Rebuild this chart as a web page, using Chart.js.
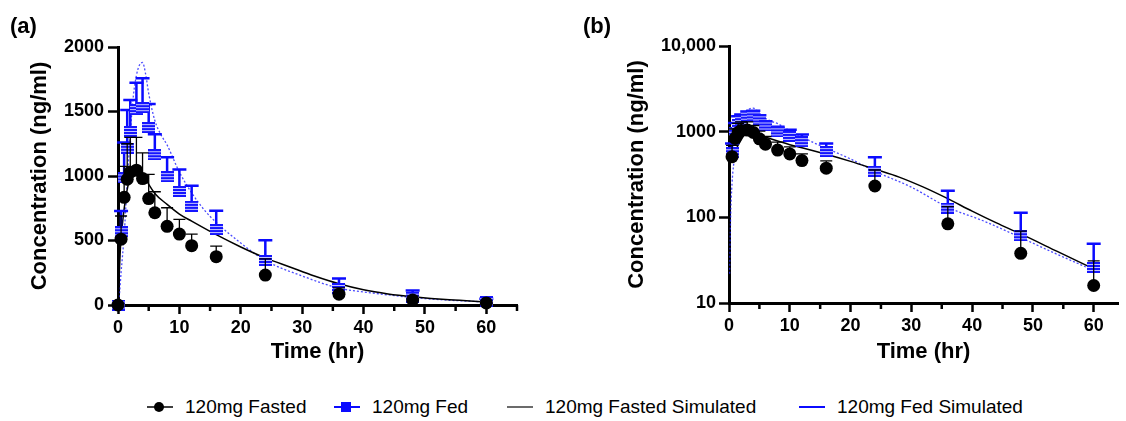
<!DOCTYPE html>
<html>
<head>
<meta charset="utf-8">
<script src="https://cdn.jsdelivr.net/npm/chart.js@4.4.1/dist/chart.umd.min.js"></script>
<style>
  body { margin: 0; background: #fff; font-family: 'Liberation Sans', Arial, sans-serif; }
  #wrap { position: relative; width: 1126px; height: 421px; overflow: hidden; }
  canvas { position: absolute; top: 0; }
  #chartA { left: 0; }
  #chartB { left: 575px; }
  .panel { position: absolute; top: 13px; font: bold 22px 'Liberation Sans', Arial, sans-serif; }
  .legend-item { position: absolute; top: 396px; height: 22px; display: flex; align-items: center; font-size: 19px; color: #000; }
  .legend-item svg { margin-right: 12px; }
</style>
</head>
<body>
<div id="wrap">
  <canvas id="chartA" width="565" height="380"></canvas>
  <canvas id="chartB" width="551" height="380"></canvas>
  <div class="panel" style="left:10px">(a)</div>
  <div class="panel" style="left:583px">(b)</div>
  <div id="legend"></div>
</div>
<script>
// observed sampling times (hr)
const times = [0, 0.5, 1, 1.5, 2, 3, 4, 5, 6, 8, 10, 12, 16, 24, 36, 48, 60];
const fastedMean = [0, 510, 835, 975, 1030, 1045, 980, 825, 715, 610, 550, 460, 375, 232, 84, 38, 16];
const fastedSD = [0, 180, 240, 275, 270, 255, 200, 188, 163, 144, 114, 90, 82, 125, 49, 31, 15];
const fedMean = [0, 568, 985, 1215, 1345, 1515, 1530, 1375, 1165, 995, 880, 765, 585, 345, 128, 61, 26];
const fedSD = [0, 161, 275, 297, 245, 208, 227, 183, 158, 150, 170, 160, 145, 157, 77, 52, 23];

// simulated profiles
const fastedSimTimes = [0, 0.5, 3.5, 4.5, 6, 8, 10, 12, 16, 20, 24, 28, 32, 36, 40, 44, 48, 54, 60];
const fastedSim = [0, 520, 1055, 975, 865, 780, 705, 650, 545, 450, 365, 295, 225, 165, 118, 86, 64, 40, 25];
const fedSimTimes = [0, 0.1, 0.25, 0.5, 1, 1.5, 2, 2.5, 3, 3.5, 4, 4.5, 5, 6, 7, 8, 10, 12, 14, 16, 20, 24, 30, 36, 42, 48, 54, 60];
const fedSim = [0, 22, 90, 250, 540, 950, 1330, 1620, 1780, 1860, 1880, 1790, 1640, 1430, 1320, 1240, 1030, 870, 740, 640, 480, 345, 225, 131, 90, 58, 37, 24];

const linearTicks = [0, 500, 1000, 1500, 2000];
const logTicks = [10, 100, 1000, 10000];
const logTickLabels = ['10', '100', '1000', '10,000'];
const minorTimeTicks = [5, 15, 25, 35, 45, 55, 65];

const FONT = "'Liberation Sans', Arial, sans-serif";
const BLUE = '#0b0bff';

const points = (xs, ys, sd) => xs.map((x, i) => ({ x, y: ys[i], sd: sd ? sd[i] : 0 }));

// striped square used for the fed observations
const fedMarker = document.createElement('canvas');
fedMarker.width = 13;
fedMarker.height = 11;
{
    const m = fedMarker.getContext('2d');
    m.fillStyle = '#c4c4ff';
    m.fillRect(0, 0, 13, 11);
    m.fillStyle = '#1515ff';
    [0, 3, 6, 9].forEach((y) => m.fillRect(0, y, 13, 2));
}

const errorBars = {
    id: 'errorBars',
    beforeDatasetDraw(chart, args) {
        const ds = chart.data.datasets[args.index];
        if (!ds.errColor) return;
        const { ctx } = chart;
        const xs = chart.scales.x;
        const ys = chart.scales.y;
        ctx.save();
        ctx.strokeStyle = ds.errColor;
        ctx.lineWidth = ds.errWidth;
        ds.data.forEach((p) => {
            if (!p.sd) return;
            const px = xs.getPixelForValue(p.x);
            const y0 = ys.getPixelForValue(p.y);
            const y1 = ys.getPixelForValue(p.y + p.sd);
            ctx.beginPath();
            ctx.moveTo(px, y0);
            ctx.lineTo(px, y1);
            ctx.moveTo(px - ds.capHalf, y1);
            ctx.lineTo(px + ds.capHalf, y1);
            ctx.stroke();
        });
        ctx.restore();
    },
};

const minorTicks = {
    id: 'minorTicks',
    afterDraw(chart) {
        const xs = chart.scales.x;
        const { ctx, chartArea } = chart;
        ctx.save();
        ctx.strokeStyle = '#000';
        ctx.lineWidth = 2.5;
        minorTimeTicks.forEach((v) => {
            if (v > xs.max) return;
            const px = xs.getPixelForValue(v);
            ctx.beginPath();
            ctx.moveTo(px, chartArea.bottom);
            ctx.lineTo(px, chartArea.bottom + 6);
            ctx.stroke();
        });
        ctx.restore();
    },
};

const buildDatasets = (isLog) => {
    const keep = (arr) => (isLog ? arr.filter((p) => p.y > 0) : arr);
    return [
        {
            label: '120mg Fasted',
            data: keep(points(times, fastedMean, fastedSD)),
            pointStyle: 'circle',
            pointRadius: 6.5,
            pointHoverRadius: 6.5,
            backgroundColor: '#000',
            borderWidth: 0,
            errColor: '#000',
            errWidth: 1.3,
            capHalf: 6,
            clip: false,
            order: 0,
        },
        {
            label: '120mg Fed',
            data: keep(points(times, fedMean, fedSD)),
            pointStyle: fedMarker,
            pointRadius: 6,
            errColor: BLUE,
            errWidth: 2.5,
            capHalf: 7,
            clip: false,
            order: 1,
        },
        {
            label: '120mg Fasted Simulated',
            data: keep(points(fastedSimTimes, fastedSim)),
            showLine: true,
            borderColor: '#000',
            borderWidth: 1.5,
            pointRadius: 0,
            cubicInterpolationMode: 'monotone',
            clip: false,
            order: 2,
        },
        {
            label: '120mg Fed Simulated',
            data: keep(points(fedSimTimes, fedSim)),
            showLine: true,
            borderColor: 'rgba(30, 30, 255, .8)',
            borderDash: [2, 2],
            borderWidth: 1.3,
            pointRadius: 0,
            cubicInterpolationMode: 'monotone',
            clip: false,
            order: 3,
        },
    ];
};

const axisBase = (tickLength) => ({
    border: { display: true, color: '#000', width: 3 },
    grid: { drawOnChartArea: false, drawTicks: true, tickLength, tickWidth: 2.5, tickColor: '#000', color: '#000' },
});

const makeChart = (id, isLog, opts) => new Chart(document.getElementById(id), {
    type: 'scatter',
    data: { datasets: buildDatasets(isLog) },
    plugins: [errorBars, minorTicks],
    options: {
        responsive: false,
        animation: false,
        events: [],
        layout: { padding: { left: 0, top: opts.top, right: opts.right, bottom: 0 } },
        plugins: { legend: { display: false }, tooltip: { enabled: false } },
        scales: {
            x: {
                type: 'linear',
                min: 0,
                max: opts.xMax,
                ...axisBase(9),
                afterFit: (s) => { s.height = opts.xHeight; },
                ticks: {
                    stepSize: 10,
                    includeBounds: false,
                    color: '#000',
                    padding: 3,
                    maxRotation: 0,
                    font: { family: FONT, size: 18, weight: 'bold' },
                },
                title: {
                    display: true,
                    text: 'Time (hr)',
                    color: '#000',
                    padding: { top: 0, bottom: 15 },
                    font: { family: FONT, size: 22, weight: 'bold' },
                },
            },
            y: {
                type: isLog ? 'logarithmic' : 'linear',
                min: isLog ? 10 : 0,
                max: isLog ? 10000 : 2000,
                ...axisBase(10),
                afterFit: (s) => { s.width = opts.yWidth; },
                afterBuildTicks: (s) => {
                    s.ticks = (isLog ? logTicks : linearTicks).map((value) => ({ value }));
                },
                ticks: {
                    autoSkip: false,
                    color: '#000',
                    padding: opts.yPad,
                    font: { family: FONT, size: 18, weight: 'bold' },
                    callback: (v) => (isLog ? logTickLabels[logTicks.indexOf(v)] : String(v)),
                },
                title: {
                    display: true,
                    text: 'Concentration (ng/ml)',
                    color: '#000',
                    padding: { top: opts.titlePad, bottom: 0 },
                    font: { family: FONT, size: 22, weight: 'bold' },
                },
            },
        },
    },
});

makeChart('chartA', false, { top: 47, right: 48, xMax: 65, xHeight: 75, yWidth: 118, yPad: 4, titlePad: 27 });
makeChart('chartB', true, { top: 46, right: 8, xMax: 64, xHeight: 77, yWidth: 154, yPad: 3, titlePad: 49 });

// shared legend under both panels
const legendItems = [
    { text: '120mg Fasted', left: 147, line: '#000', lineW: 1.5, mark: 'circle', color: '#000' },
    { text: '120mg Fed', left: 334, line: BLUE, lineW: 2, mark: 'square', color: BLUE },
    { text: '120mg Fasted Simulated', left: 507, line: '#6b6b6b', lineW: 2, mark: null },
    { text: '120mg Fed Simulated', left: 799, line: BLUE, lineW: 2, mark: null },
];
const legend = document.getElementById('legend');
legendItems.forEach((item) => {
    const el = document.createElement('div');
    el.className = 'legend-item';
    el.style.left = item.left + 'px';
    let mark = '';
    if (item.mark === 'circle') mark = `<circle cx="12" cy="11" r="5" fill="${item.color}"/>`;
    if (item.mark === 'square') mark = `<rect x="7" y="6" width="10" height="10" fill="${item.color}"/>`;
    el.innerHTML = `<svg width="26" height="22"><line x1="0" y1="11" x2="26" y2="11" stroke="${item.line}" stroke-width="${item.lineW}"/>${mark}</svg><span>${item.text}</span>`;
    legend.appendChild(el);
});
</script>
</body>
</html>
